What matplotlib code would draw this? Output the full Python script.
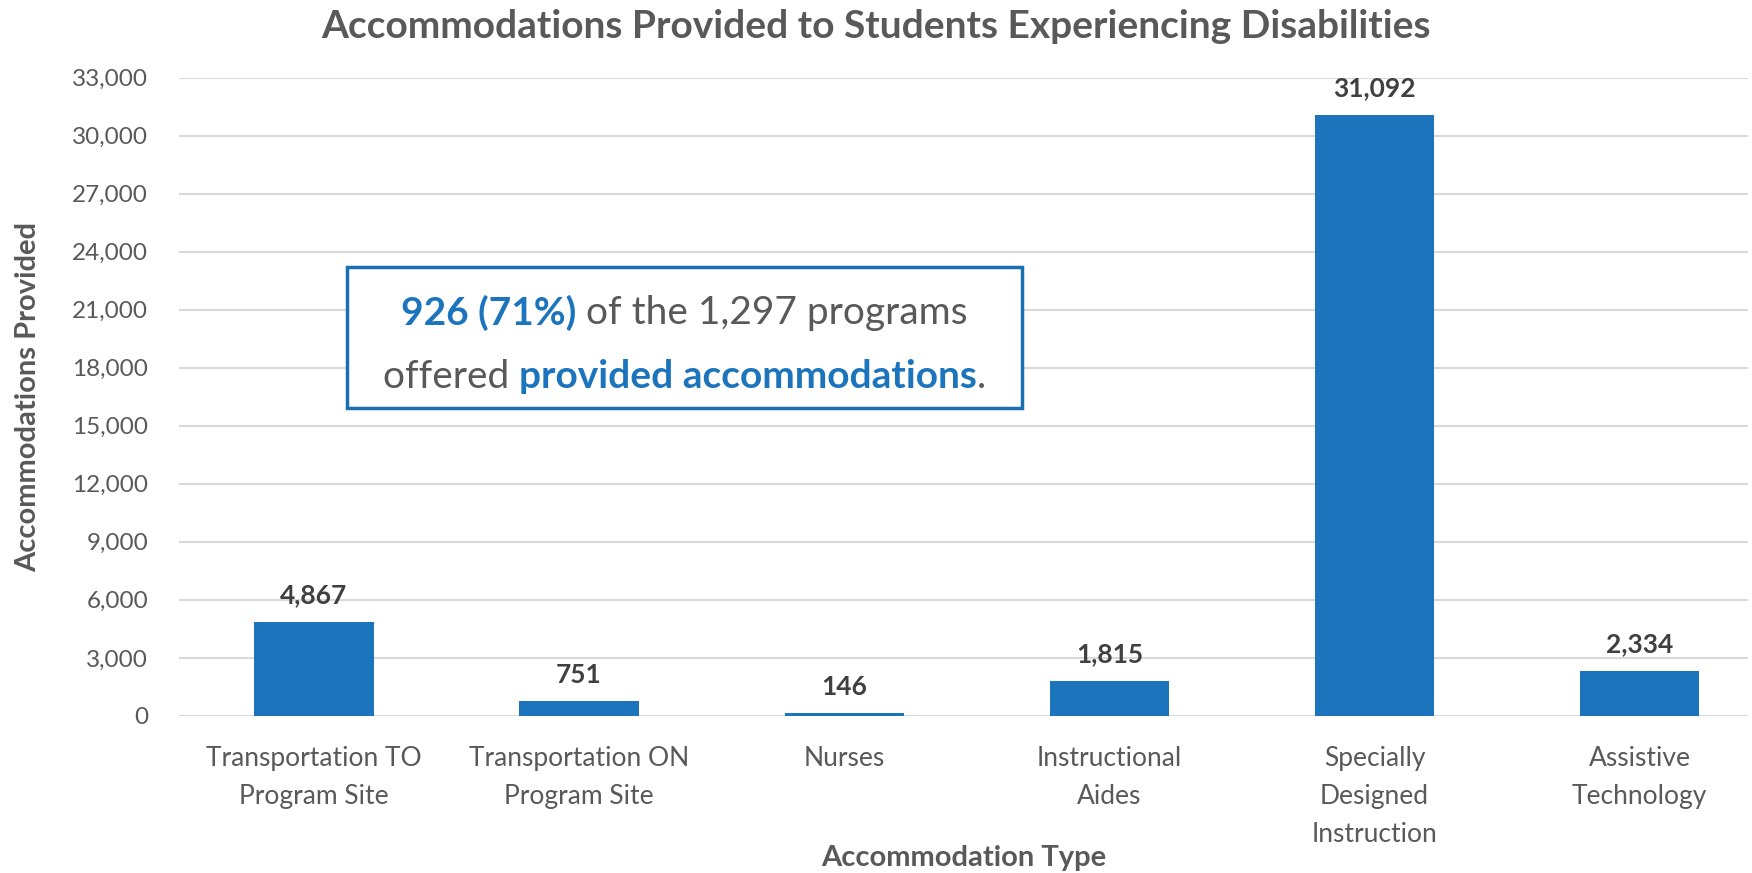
import matplotlib.pyplot as plt

plt.rcParams['font.family'] = ['Lato', 'DejaVu Sans']

categories = ['Transportation TO\nProgram Site', 'Transportation ON\nProgram Site', 'Nurses',
              'Instructional\nAides', 'Specially\nDesigned\nInstruction', 'Assistive\nTechnology']
values = [4867, 751, 146, 1815, 31092, 2334]
yticks = list(range(0, 33001, 3000))

blue = '#1C75BC'
gray = '#595959'
dark = '#404040'

fig = plt.figure(figsize=(17.52, 8.73), dpi=100)
ax = fig.add_axes([0.102, 0.180, 0.896, 0.731])

x = range(len(categories))
ax.bar(x, values, width=0.45, color=blue, zorder=3)
for xi, v in zip(x, values):
    ax.text(xi, v + 750, f'{v:,}', ha='center', va='bottom', fontsize=19,
            fontweight='bold', color=dark)

ax.set_xlim(-0.51, 5.41)
ax.set_ylim(0, 33000)
ax.set_yticks(yticks)
ax.set_yticklabels([f'{t:,}' for t in yticks])
ax.set_xticks(list(x))
ax.set_xticklabels(categories, linespacing=1.65, fontsize=19)
ax.tick_params(axis='both', length=0, labelsize=17.5, labelcolor=gray)
ax.tick_params(axis='x', pad=22, labelsize=19)
ax.tick_params(axis='y', pad=22)
ax.grid(axis='y', color='#D9D9D9', linewidth=1.5, zorder=0)
for s in ax.spines.values():
    s.set_visible(False)

ax.set_ylabel('Accommodations Provided', fontsize=21, fontweight='bold', color=gray, labelpad=22)
ax.set_xlabel('Accommodation Type', fontsize=21, fontweight='bold', color=gray, labelpad=-2)
fig.suptitle('Accommodations Provided to Students Experiencing Disabilities', fontsize=28,
             fontweight='bold', color=gray, y=0.99)

# callout box
W, H = fig.get_size_inches() * fig.dpi
box = plt.Rectangle((347 / W, 1 - 408 / H), 675 / W, 141 / H, transform=fig.transFigure,
                    facecolor='white', edgecolor='#1A6FB0', linewidth=2.5, zorder=5)
fig.patches.append(box)

lines = [
    [('926 (71%)', blue, 'bold'), (' of the 1,297 programs', gray, 'normal')],
    [('offered ', gray, 'normal'), ('provided accommodations', blue, 'bold'), ('.', gray, 'normal')],
]
line_y = [1 - 313 / H, 1 - 377 / H]
cx = (347 + 675 / 2) / W
renderer = fig.canvas.get_renderer()
for segs, ly in zip(lines, line_y):
    texts = [fig.text(0, ly, s, color=c, fontweight=w, fontsize=28, va='center', zorder=6)
             for s, c, w in segs]
    widths = [t.get_window_extent(renderer).width / W for t in texts]
    start = cx - sum(widths) / 2
    for t, w in zip(texts, widths):
        t.set_x(start)
        start += w

fig.savefig('out.png', dpi=100)
